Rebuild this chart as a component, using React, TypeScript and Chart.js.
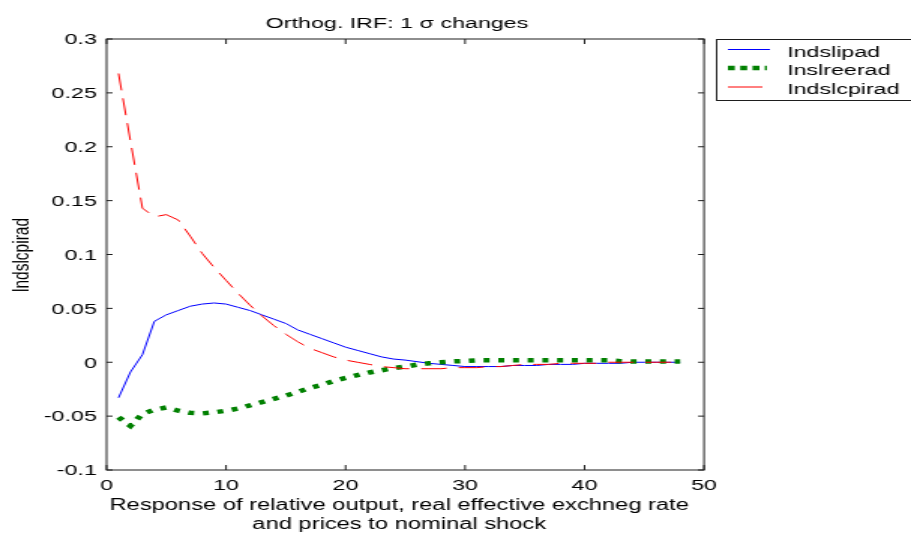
import { useEffect, useRef } from 'react';
import { Chart, registerables } from 'chart.js';

Chart.register(...registerables);

// ---- data ----
const periods = [
  1, 2, 3, 4, 5, 6, 7, 8, 9, 10, 11, 12, 13, 14, 15, 16, 17, 18, 19, 20, 21, 22, 23, 24,
  25, 26, 27, 28, 29, 30, 31, 32, 33, 34, 35, 36, 37, 38, 39, 40, 41, 42, 43, 44, 45, 46, 47, 48,
];

const lndslipad = [
  -0.033, -0.009, 0.007, 0.038, 0.044, 0.048, 0.052, 0.054, 0.055, 0.054, 0.051, 0.048,
  0.044, 0.040, 0.036, 0.030, 0.026, 0.022, 0.018, 0.014, 0.011, 0.008, 0.005, 0.003,
  0.002, 0.0005, -0.001, -0.002, -0.003, -0.004, -0.004, -0.004, -0.004, -0.003, -0.003, -0.003,
  -0.002, -0.002, -0.002, -0.001, -0.001, -0.001, -0.001, 0.0, 0.0, 0.0, 0.0, 0.0,
];

const lnslreerad = [
  -0.051, -0.059, -0.048, -0.044, -0.042, -0.045, -0.047, -0.0475, -0.0465, -0.045, -0.043, -0.040,
  -0.037, -0.034, -0.031, -0.0275, -0.024, -0.021, -0.0175, -0.0145, -0.012, -0.0095, -0.0075, -0.0055,
  -0.004, -0.0022, -0.001, 0.0, 0.0008, 0.0012, 0.0018, 0.0018, 0.0018, 0.0018, 0.0018, 0.0018,
  0.0018, 0.0018, 0.0018, 0.0018, 0.0018, 0.0018, 0.001, 0.0006, 0.0006, 0.0006, 0.0006, 0.0006,
];

const lndslcpirad = [
  0.268, 0.205, 0.143, 0.135, 0.137, 0.132, 0.117, 0.101, 0.088, 0.076, 0.064, 0.053,
  0.043, 0.034, 0.026, 0.019, 0.013, 0.009, 0.005, 0.002, 0.0, -0.002, -0.004, -0.005,
  -0.006, -0.006, -0.006, -0.006, -0.005, -0.005, -0.005, -0.004, -0.004, -0.003, -0.002, -0.002,
  -0.002, -0.001, -0.001, -0.001, -0.001, 0.0, 0.0, 0.0, 0.0, 0.0, 0.0, 0.0,
];

const seriesNames = ['Indslipad', 'Inslreerad', 'Indslcpirad'];

const xTickValues = [0, 10, 20, 30, 40, 50];
const xTickLabels = ['0', '10', '20', '30', '40', '50'];
const yTickValues = [-0.1, -0.05, 0, 0.05, 0.1, 0.15, 0.2, 0.25, 0.3];
const yTickLabels = ['-0.1', '-0.05', '0', '0.05', '0.1', '0.15', '0.2', '0.25', '0.3'];

const titleText = 'Orthog. IRF: 1 \u03C3 changes';
const yTitleText = 'lndslcpirad';
const xTitleLines = [
  'Response of relative output, real effective exchneg rate',
  'and prices to nominal shock',
];

// ---- layout / style ----
const LOGICAL_W = 607;
const H = 533;
const SX = 911 / LOGICAL_W;
const FONT = '15.5px "Liberation Sans", Arial, sans-serif';
const XTITLE_FONT = '15.8px "Liberation Sans", Arial, sans-serif';
const BLUE = '#0000ff';
const GREEN = '#008000';
const RED = '#ff0000';
const AXIS = '#1e1e1e';

const decor = {
  id: 'decor',
  beforeDraw(chart: any) {
    const ctx = chart.ctx;
    ctx.save();
    ctx.fillStyle = '#ffffff';
    ctx.fillRect(0, 0, chart.width, chart.height);
    ctx.restore();
  },
  afterDraw(chart: any) {
    const ctx = chart.ctx;
    const { left, right, top, bottom } = chart.chartArea;
    const xs = chart.scales.x;
    const ys = chart.scales.y;
    ctx.save();
    ctx.strokeStyle = AXIS;
    ctx.lineWidth = 1;
    ctx.setLineDash([]);
    ctx.strokeRect(left, top, right - left, bottom - top);
    ctx.beginPath();
    xTickValues.forEach((v) => {
      const px = xs.getPixelForValue(v);
      ctx.moveTo(px, bottom);
      ctx.lineTo(px, bottom - 5);
      ctx.moveTo(px, top);
      ctx.lineTo(px, top + 5);
    });
    yTickValues.forEach((v) => {
      const py = ys.getPixelForValue(v);
      ctx.moveTo(left, py);
      ctx.lineTo(left + 4, py);
      ctx.moveTo(right, py);
      ctx.lineTo(right - 4, py);
    });
    ctx.stroke();

    ctx.fillStyle = '#000000';
    ctx.font = FONT;
    // y tick labels
    ctx.textAlign = 'right';
    ctx.textBaseline = 'middle';
    yTickValues.forEach((v, i) => {
      ctx.fillText(yTickLabels[i], left - 6.5, ys.getPixelForValue(v) + 1);
    });
    // x tick labels
    ctx.textAlign = 'center';
    ctx.textBaseline = 'alphabetic';
    xTickValues.forEach((v, i) => {
      ctx.fillText(xTickLabels[i], xs.getPixelForValue(v), 490);
    });
    // title
    ctx.fillText(titleText, 264.5, 28);
    // x title
    ctx.font = XTITLE_FONT;
    ctx.fillText(xTitleLines[0], 266, 510);
    ctx.fillText(xTitleLines[1], 266, 529);
    ctx.font = FONT;
    // y title
    ctx.save();
    ctx.translate(14.5, 255);
    ctx.rotate(-Math.PI / 2);
    ctx.textBaseline = 'middle';
    ctx.fillText(yTitleText, 0, 0);
    ctx.restore();

    // legend
    const lx = 477.5;
    ctx.fillStyle = '#ffffff';
    ctx.fillRect(lx, 39.5, 200, 61);
    ctx.strokeStyle = AXIS;
    ctx.lineWidth = 1;
    ctx.strokeRect(lx, 39.5, 200, 61);
    const rows = [49.5, 68, 87];
    const colors = [BLUE, GREEN, RED];
    const widths = [1, 4.5, 1];
    const dashes = [[], [4.6, 3.6], []];
    const ends = [513, 511, 508];
    rows.forEach((ry, i) => {
      ctx.beginPath();
      ctx.strokeStyle = colors[i];
      ctx.lineWidth = widths[i];
      ctx.setLineDash(dashes[i]);
      ctx.moveTo(485, ry);
      ctx.lineTo(ends[i], ry);
      ctx.stroke();
    });
    ctx.setLineDash([]);
    ctx.fillStyle = '#000000';
    ctx.textAlign = 'left';
    ctx.textBaseline = 'alphabetic';
    const baselines = [56.5, 75, 93.5];
    seriesNames.forEach((n, i) => ctx.fillText(n, 524.4, baselines[i]));
    ctx.restore();
  },
};

export default function App() {
  const ref = useRef<HTMLCanvasElement | null>(null);
  useEffect(() => {
    if (!ref.current) return;
    const toXY = (vals: number[]) => vals.map((v, i) => ({ x: periods[i], y: v }));
    const chart = new Chart(ref.current, {
      type: 'line',
      data: {
        datasets: [
          {
            label: seriesNames[0],
            data: toXY(lndslipad),
            borderColor: BLUE,
            borderWidth: 1,
            pointRadius: 0,
            tension: 0,
            fill: false,
            order: 3,
          },
          {
            label: seriesNames[1],
            data: toXY(lnslreerad),
            borderColor: GREEN,
            borderWidth: 4.5,
            borderDash: [4, 5.8],
            borderCapStyle: 'butt',
            pointRadius: 0,
            tension: 0,
            fill: false,
            order: 2,
          },
          {
            label: seriesNames[2],
            data: toXY(lndslcpirad),
            borderColor: RED,
            borderWidth: 1,
            borderDash: [17, 8],
            pointRadius: 0,
            tension: 0,
            fill: false,
            order: 1,
          },
        ],
      },
      options: {
        responsive: false,
        animation: false,
        devicePixelRatio: 1,
        layout: { padding: { left: 71, top: 39, right: LOGICAL_W - 469.1, bottom: H - 470 } },
        plugins: {
          legend: { display: false },
          title: { display: false },
          tooltip: { enabled: false },
        },
        scales: {
          x: { type: 'linear', display: false, min: 0, max: 50, ticks: { stepSize: 10 } },
          y: { type: 'linear', display: false, min: -0.1, max: 0.3, ticks: { stepSize: 0.05 } },
        },
      },
      plugins: [decor],
    } as any);
    return () => chart.destroy();
  }, []);

  return (
    <div
      style={{
        position: 'fixed',
        left: 0,
        top: 0,
        width: 911,
        height: 533,
        overflow: 'hidden',
        background: '#ffffff',
      }}
    >
      <canvas
        ref={ref}
        width={LOGICAL_W}
        height={H}
        style={{
          width: LOGICAL_W + 'px',
          height: H + 'px',
          display: 'block',
          transform: `scaleX(${SX})`,
          transformOrigin: '0 0',
        }}
      />
    </div>
  );
}
